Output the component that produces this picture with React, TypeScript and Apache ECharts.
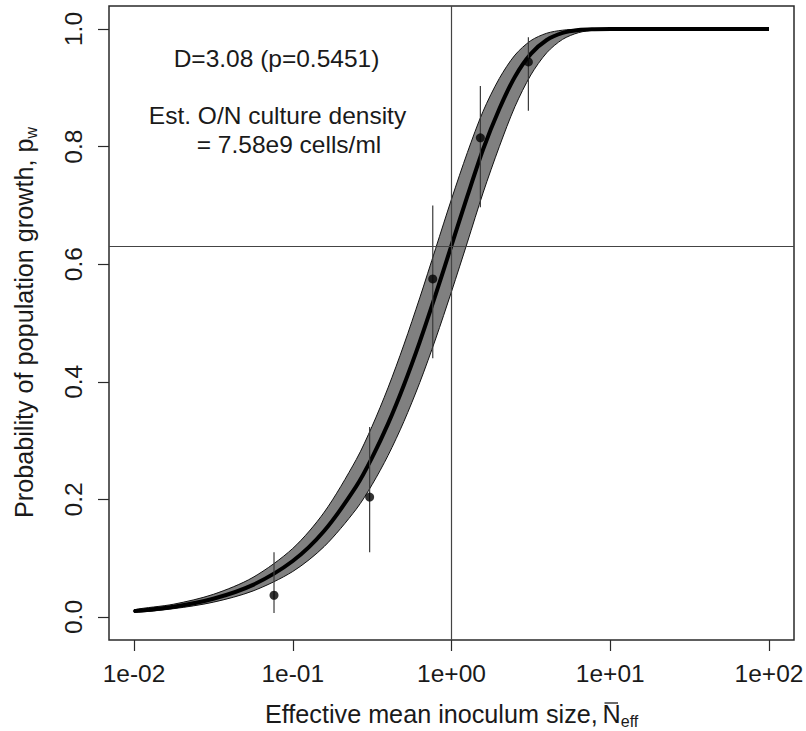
import React, { useEffect, useRef } from "react";
import * as echarts from "echarts";

// Fitted curve: effective mean inoculum size vs probability of growth
const curveN = [0.01, 0.0178, 0.0316, 0.0562, 0.1, 0.158, 0.251, 0.316, 0.398, 0.501, 0.631, 0.794, 1.0, 1.26, 1.58, 2.0, 2.51, 3.16, 3.98, 5.01, 6.31, 7.94, 10, 17.8, 31.6, 100];
const pMid = [0.01, 0.0176, 0.0311, 0.0547, 0.0952, 0.1466, 0.2221, 0.2711, 0.3284, 0.3942, 0.4679, 0.5481, 0.6321, 0.716, 0.795, 0.864, 0.9189, 0.9577, 0.9813, 0.9933, 0.9982, 0.9996, 1.0, 1.0, 1.0, 1.0];
const pLow = [0.008, 0.0142, 0.0252, 0.0443, 0.0774, 0.12, 0.1833, 0.225, 0.2745, 0.3323, 0.3987, 0.4728, 0.5534, 0.6375, 0.7212, 0.7998, 0.868, 0.9218, 0.9596, 0.9824, 0.9938, 0.9983, 0.9997, 1.0, 1.0, 1.0];
const pHigh = [0.0123, 0.0218, 0.0385, 0.0674, 0.1166, 0.1784, 0.2676, 0.3243, 0.3896, 0.4628, 0.5427, 0.6265, 0.7106, 0.7901, 0.8599, 0.9158, 0.9556, 0.9802, 0.9928, 0.998, 0.9996, 0.9999, 1.0, 1.0, 1.0, 1.0];

// Observed points with error bars
const obsN = [0.0762, 0.305, 0.762, 1.52, 3.05];
const obsP = [0.037, 0.204, 0.575, 0.815, 0.944];
const obsLo = [0.007, 0.11, 0.44, 0.697, 0.861];
const obsHi = [0.11, 0.323, 0.7, 0.903, 0.986];

// Reference lines
const refN = 1;
const refP = 0.632;

// Tick labels
const xTickLabels = ["1e-02", "1e-01", "1e+00", "1e+01", "1e+02"];
const yTickLabels = ["0.0", "0.2", "0.4", "0.6", "0.8", "1.0"];

// Texts
const annotD = "D=3.08 (p=0.5451)";
const annotEst1 = "Est. O/N culture density";
const annotEst2 = "= 7.58e9 cells/ml";
const xTitleMain = "Effective mean inoculum size,";
const xTitleN = "N";
const xTitleSub = "eff";
const yTitleMain = "Probability of population growth, p";
const yTitleSub = "w";

const FONT = "'Liberation Sans', Arial, Helvetica, sans-serif";
const FS = 24.5;
const FS_TITLE = 25.2;
const TXT = "#1a1a1a";

export default function App() {
  const ref = useRef<HTMLDivElement>(null);

  useEffect(() => {
    if (!ref.current) return;
    const chart = echarts.init(ref.current, undefined, { renderer: "svg" });

    // Box (plot region) and inner data region in pixels
    const inner = { left: 134, top: 29, right: 37, bottom: 114 };
    const box = { left: 109, top: 6, right: 12, bottom: 91 };
    const W = 806, H = 731;
    const innerW = W - inner.left - inner.right;
    const innerH = H - inner.top - inner.bottom;
    const pxPerDecade = innerW / 4;
    const padLeftDec = (inner.left - box.left) / pxPerDecade;
    const padRightDec = (inner.right - box.right) / pxPerDecade;
    const xMin = Math.pow(10, -2 - padLeftDec);
    const xMax = Math.pow(10, 2 + padRightDec);
    const yMin = -(inner.bottom - box.bottom) / innerH;
    const yMax = 1 + (inner.top - box.top) / innerH;

    const option: any = {
      animation: false,
      backgroundColor: "#ffffff",
      grid: [
        {
          left: box.left, top: box.top, right: box.right, bottom: box.bottom,
          show: true, borderColor: "#2a2a2a", borderWidth: 1.5, backgroundColor: "transparent",
          containLabel: false, outerBoundsMode: "none",
        },
        {
          left: inner.left, top: inner.top, right: inner.right, bottom: inner.bottom,
          show: false, containLabel: false, outerBoundsMode: "none",
        },
      ],
      xAxis: [
        { gridIndex: 0, type: "log", logBase: 10, min: xMin, max: xMax, show: false, axisLine: { onZero: false } },
        {
          gridIndex: 1, type: "log", logBase: 10, min: 0.01, max: 100, position: "bottom", offset: 23,
          axisLine: { show: false, onZero: false },
          axisTick: { show: true, length: 11, inside: false, lineStyle: { color: "#2a2a2a", width: 1.2 } },
          minorTick: { show: false },
          splitLine: { show: false },
          minorSplitLine: { show: false },
          axisLabel: {
            margin: 21, fontSize: FS, fontFamily: FONT, color: TXT,
            formatter: (v: number) => xTickLabels[Math.round(Math.log10(v)) + 2] ?? "",
          },
        },
      ],
      yAxis: [
        { gridIndex: 0, type: "value", min: yMin, max: yMax, show: false, axisLine: { onZero: false } },
        {
          gridIndex: 1, type: "value", min: 0, max: 1, interval: 0.2, position: "left", offset: 25,
          axisLine: { show: false, onZero: false },
          axisTick: { show: true, length: 11, inside: false, lineStyle: { color: "#2a2a2a", width: 1.2 } },
          splitLine: { show: false },
          axisLabel: {
            rotate: 90, margin: 23, fontSize: FS, fontFamily: FONT, color: TXT,
            formatter: (v: number) => yTickLabels[Math.round(v / 0.2)] ?? "",
          },
        },
      ],
      series: [
        {
          type: "custom",
          name: "band",
          xAxisIndex: 0, yAxisIndex: 0,
          data: [[curveN[0], pMid[0]]],
          encode: { x: 0, y: 1 },
          silent: true,
          z: 2,
          renderItem: (_params: any, api: any) => {
            const lower = curveN.map((n, i) => api.coord([n, pLow[i]]));
            const upper = curveN.map((n, i) => api.coord([n, pHigh[i]])).reverse();
            return {
              type: "polygon",
              shape: { points: lower.concat(upper), smooth: 0.3 },
              style: { fill: "#808080", stroke: "#111", lineWidth: 1 },
            };
          },
        },
        {
          type: "line",
          name: "fit",
          xAxisIndex: 0, yAxisIndex: 0,
          data: curveN.map((n, i) => [n, pMid[i]]),
          smooth: 0.3,
          symbol: "none",
          lineStyle: { color: "#000", width: 4 },
          silent: true,
          z: 3,
          markLine: {
            silent: true,
            symbol: ["none", "none"],
            label: { show: false },
            lineStyle: { color: "#444", width: 1.2, type: "solid" },
            data: [{ xAxis: refN }, { yAxis: refP }],
          },
        },
        {
          type: "custom",
          name: "errorbars",
          xAxisIndex: 0, yAxisIndex: 0,
          data: obsN.map((n, i) => [n, obsLo[i], obsHi[i]]),
          encode: { x: 0, y: [1, 2] },
          silent: true,
          z: 4,
          renderItem: (_params: any, api: any) => {
            const a = api.coord([api.value(0), api.value(1)]);
            const b = api.coord([api.value(0), api.value(2)]);
            return {
              type: "line",
              shape: { x1: a[0], y1: a[1], x2: b[0], y2: b[1] },
              style: { stroke: "#3a3a3a", lineWidth: 1.2 },
            };
          },
        },
        {
          type: "scatter",
          name: "obs",
          xAxisIndex: 0, yAxisIndex: 0,
          data: obsN.map((n, i) => [n, obsP[i]]),
          symbol: "circle",
          symbolSize: 9,
          itemStyle: { color: "#000" },
          silent: true,
          z: 5,
        },
      ],
      graphic: [
        {
          type: "text", x: 276.5, y: 58.2, silent: true,
          style: { text: annotD, fontSize: FS, fontFamily: FONT, fill: TXT, align: "center", verticalAlign: "middle" },
        },
        {
          type: "text", x: 277.5, y: 115.5, silent: true,
          style: { text: annotEst1, fontSize: FS, fontFamily: FONT, fill: TXT, align: "center", verticalAlign: "middle" },
        },
        {
          type: "text", x: 289, y: 144.8, silent: true,
          style: { text: annotEst2, fontSize: FS, fontFamily: FONT, fill: TXT, align: "center", verticalAlign: "middle" },
        },
        {
          type: "text", x: 265, y: 714.3, silent: true,
          style: { text: xTitleMain, fontSize: FS_TITLE, fontFamily: FONT, fill: TXT, align: "left", verticalAlign: "middle" },
        },
        {
          type: "text", x: 602.5, y: 714.3, silent: true,
          style: { text: xTitleN, fontSize: FS_TITLE, fontFamily: FONT, fill: TXT, align: "left", verticalAlign: "middle" },
        },
        {
          type: "line", silent: true,
          shape: { x1: 604.5, y1: 703, x2: 618, y2: 703 },
          style: { stroke: TXT, lineWidth: 1.3 },
        },
        {
          type: "text", x: 620.8, y: 721.5, silent: true,
          style: { text: xTitleSub, fontSize: 16, fontFamily: FONT, fill: TXT, align: "left", verticalAlign: "middle" },
        },
        {
          type: "text", x: 24, y: 322.5, rotation: Math.PI / 2, silent: true,
          style: {
            text: "{a|" + yTitleMain + "}{b|" + yTitleSub + "}",
            align: "center", verticalAlign: "middle",
            rich: {
              a: { fontSize: FS_TITLE, fontFamily: FONT, fill: TXT, lineHeight: 30 },
              b: { fontSize: 16, fontFamily: FONT, fill: TXT, lineHeight: 16, verticalAlign: "bottom" },
            },
          },
        },
      ],
    };

    chart.setOption(option);
    return () => chart.dispose();
  }, []);

  return (
    <div
      ref={ref}
      style={{ position: "fixed", left: 0, top: 0, width: 806, height: 731, background: "#fff" }}
    />
  );
}
